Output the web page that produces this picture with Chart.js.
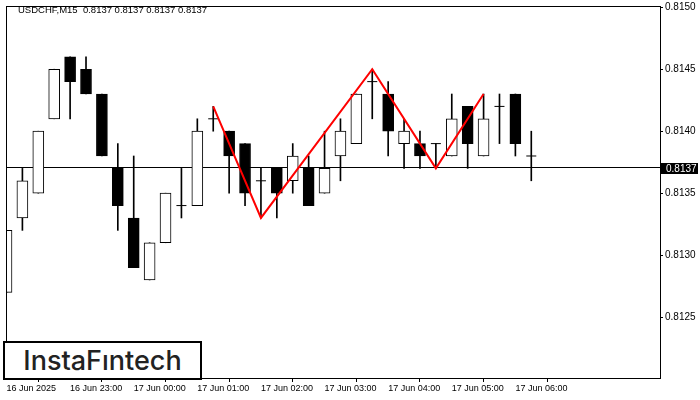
<!DOCTYPE html>
<html>
<head>
<meta charset="utf-8">
<script src="https://cdn.jsdelivr.net/npm/chart.js@4.4.1/dist/chart.umd.min.js"></script>
<style>
  html, body { margin: 0; padding: 0; background: #fff; }
  #wrap { position: relative; width: 700px; height: 400px; }
  #title {
    position: absolute; left: 18px; top: 4px;
    font: 9.5px "Liberation Sans", Arial, sans-serif; color: #000;
    white-space: pre;
  }
  #logo {
    position: absolute; left: 3px; top: 341px; width: 195px; height: 35px;
    border: 2px solid #000; background: #fff;
    font: 500 27px Inter, "Noto Sans", sans-serif; color: #222;
    line-height: 35px; text-align: center; letter-spacing: 0px;
  }
</style>
</head>
<body>
<div id="wrap">
  <canvas id="chart" width="700" height="400"></canvas>
  <div id="title">USDCHF,M15  0.8137 0.8137 0.8137 0.8137</div>
  <div id="logo">InstaFıntech</div>
</div>
<script>
// USDCHF M15 candles, 16 Jun 22:00 -> 17 Jun 06:15
const opens  = [0.8127, 0.8133, 0.8135, 0.8141, 0.8146, 0.8145, 0.8143, 0.8137, 0.8133, 0.8128,
                0.8131, 0.8134, 0.8134, 0.8141, 0.8140, 0.8139, 0.8136, 0.8137, 0.8136, 0.8137,
                0.8135, 0.8138, 0.8139, 0.8144, 0.8143, 0.8139, 0.8139, 0.8139, 0.8138, 0.8142,
                0.8138, 0.8142, 0.8143, 0.8138];
const highs  = [0.8132, 0.8137, 0.8140, 0.8145, 0.8146, 0.8146, 0.8143, 0.8139, 0.8138, 0.8131,
                0.8135, 0.8137, 0.8141, 0.8142, 0.8140, 0.8139, 0.8137, 0.8137, 0.8139, 0.8138,
                0.8140, 0.8141, 0.8143, 0.8145, 0.8144, 0.8141, 0.8140, 0.8139, 0.8143, 0.8142,
                0.8143, 0.8143, 0.8143, 0.8140];
const lows   = [0.8127, 0.8132, 0.8135, 0.8141, 0.8141, 0.8143, 0.8138, 0.8132, 0.8129, 0.8128,
                0.8131, 0.8133, 0.8134, 0.8140, 0.8135, 0.8134, 0.8133, 0.8133, 0.8135, 0.8134,
                0.8135, 0.8136, 0.8139, 0.8141, 0.8138, 0.8137, 0.8137, 0.8137, 0.8138, 0.8137,
                0.8138, 0.8139, 0.8138, 0.8136];
const closes = [0.8132, 0.8136, 0.8140, 0.8145, 0.8144, 0.8143, 0.8138, 0.8134, 0.8129, 0.8131,
                0.8135, 0.8134, 0.8140, 0.8141, 0.8138, 0.8135, 0.8136, 0.8135, 0.8138, 0.8134,
                0.8137, 0.8140, 0.8143, 0.8144, 0.8140, 0.8140, 0.8138, 0.8139, 0.8141, 0.8139,
                0.8141, 0.8142, 0.8139, 0.8138];

// pattern (triple top style zigzag) pivots
const patternIdx  = [13, 16, 23, 27, 30];
const patternVals = [0.8142, 0.8133, 0.8145, 0.8137, 0.8143];

const lastPrice = 0.8137;
const timeTicks = [0, 4, 8, 12, 16, 20, 24, 28, 32];
const timeLabels = ['16 Jun 2025', '16 Jun 23:00', '17 Jun 00:00', '17 Jun 01:00', '17 Jun 02:00',
                    '17 Jun 03:00', '17 Jun 04:00', '17 Jun 05:00', '17 Jun 06:00'];
const priceTicks = [0.8125, 0.8130, 0.8135, 0.8140, 0.8145, 0.8150];

const wicks = [], bodies = [], bodyColors = [], dojis = [];
opens.forEach(function (o, i) {
  wicks.push({ x: i, y: [lows[i], highs[i]] });
  if (o === closes[i]) {
    dojis.push({ x: i, y: o });
  } else {
    bodies.push({ x: i, y: [Math.min(o, closes[i]), Math.max(o, closes[i])] });
    bodyColors.push(closes[i] > o ? '#ffffff' : '#000000');
  }
});
const pattern = patternIdx.map(function (x, i) { return { x: x, y: patternVals[i] }; });

const frame = {
  id: 'frame',
  beforeDatasetsDraw(chart) {
    const { ctx, chartArea: a, scales: { y } } = chart;
    const py = Math.round(y.getPixelForValue(lastPrice)) - 0.5;
    ctx.save();
    ctx.strokeStyle = '#000';
    ctx.lineWidth = 1;
    ctx.beginPath();
    ctx.moveTo(a.left, py);
    ctx.lineTo(a.right, py);
    ctx.stroke();
    ctx.restore();
  },
  afterDraw(chart) {
    const { ctx, chartArea: a, scales: { y } } = chart;
    const py = Math.round(y.getPixelForValue(lastPrice));
    ctx.save();
    ctx.strokeStyle = '#000';
    ctx.lineWidth = 1;
    ctx.strokeRect(a.left + 0.5, a.top + 0.5, a.right - a.left, a.bottom - a.top);
    ctx.fillStyle = '#000';
    ctx.fillRect(a.right + 1, py - 5, 37, 11);
    ctx.fillStyle = '#fff';
    ctx.font = '10px "Liberation Sans", Arial, sans-serif';
    ctx.textBaseline = 'middle';
    ctx.fillText(lastPrice.toFixed(4), a.right + 6, py + 1);
    ctx.restore();
  }
};

const ctx = document.getElementById('chart').getContext('2d');
const chart = new Chart(ctx, {
  type: 'bar',
  data: {
    datasets: [
      {
        label: 'pattern',
        type: 'line',
        data: pattern,
        borderColor: '#ff0000',
        borderWidth: 2,
        pointRadius: 0,
        tension: 0,
        order: 0
      },
      {
        label: 'doji',
        type: 'line',
        data: dojis,
        showLine: false,
        pointStyle: 'line',
        pointRadius: 5,
        borderColor: '#000',
        borderWidth: 1,
        order: 1
      },
      {
        label: 'body',
        data: bodies,
        backgroundColor: bodyColors,
        borderColor: '#000',
        borderWidth: 1,
        borderSkipped: false,
        barThickness: 11,
        grouped: false,
        order: 2
      },
      {
        label: 'wick',
        data: wicks,
        backgroundColor: '#000',
        borderWidth: 0,
        barThickness: 1,
        grouped: false,
        order: 3
      }
    ]
  },
  options: {
    responsive: false,
    animation: false,
    layout: { padding: { left: 2, top: 2, right: 0, bottom: 0 } },
    plugins: { legend: { display: false }, tooltip: { enabled: false } },
    scales: {
      x: {
        type: 'linear',
        min: -0.03125,
        max: 41.09375,
        offset: false,
        afterFit: function (s) { s.height = 22; s.paddingLeft = 0; s.paddingRight = 0; },
        afterBuildTicks: function (s) { s.ticks = timeTicks.map(function (v) { return { value: v }; }); },
        ticks: {
          autoSkip: false,
          maxRotation: 0,
          align: 'start',
          padding: 1,
          color: '#000',
          font: { family: '"Liberation Sans", Arial, sans-serif', size: 9 },
          callback: function (v) { return timeLabels[timeTicks.indexOf(v)]; }
        },
        grid: { drawOnChartArea: false, tickLength: 4, color: '#000' },
        border: { color: '#000' }
      },
      y: {
        position: 'right',
        min: 0.812009,
        max: 0.81501,
        afterFit: function (s) { s.width = 40; s.paddingTop = 0; s.paddingBottom = 0; },
        afterBuildTicks: function (s) { s.ticks = priceTicks.map(function (v) { return { value: v }; }); },
        ticks: {
          padding: 2,
          color: '#000',
          font: { family: '"Liberation Sans", Arial, sans-serif', size: 10 },
          callback: function (v) { return v.toFixed(4); }
        },
        grid: { drawOnChartArea: false, tickLength: 3, color: '#000' },
        border: { color: '#000' }
      }
    }
  },
  plugins: [frame]
});
</script>
</body>
</html>
